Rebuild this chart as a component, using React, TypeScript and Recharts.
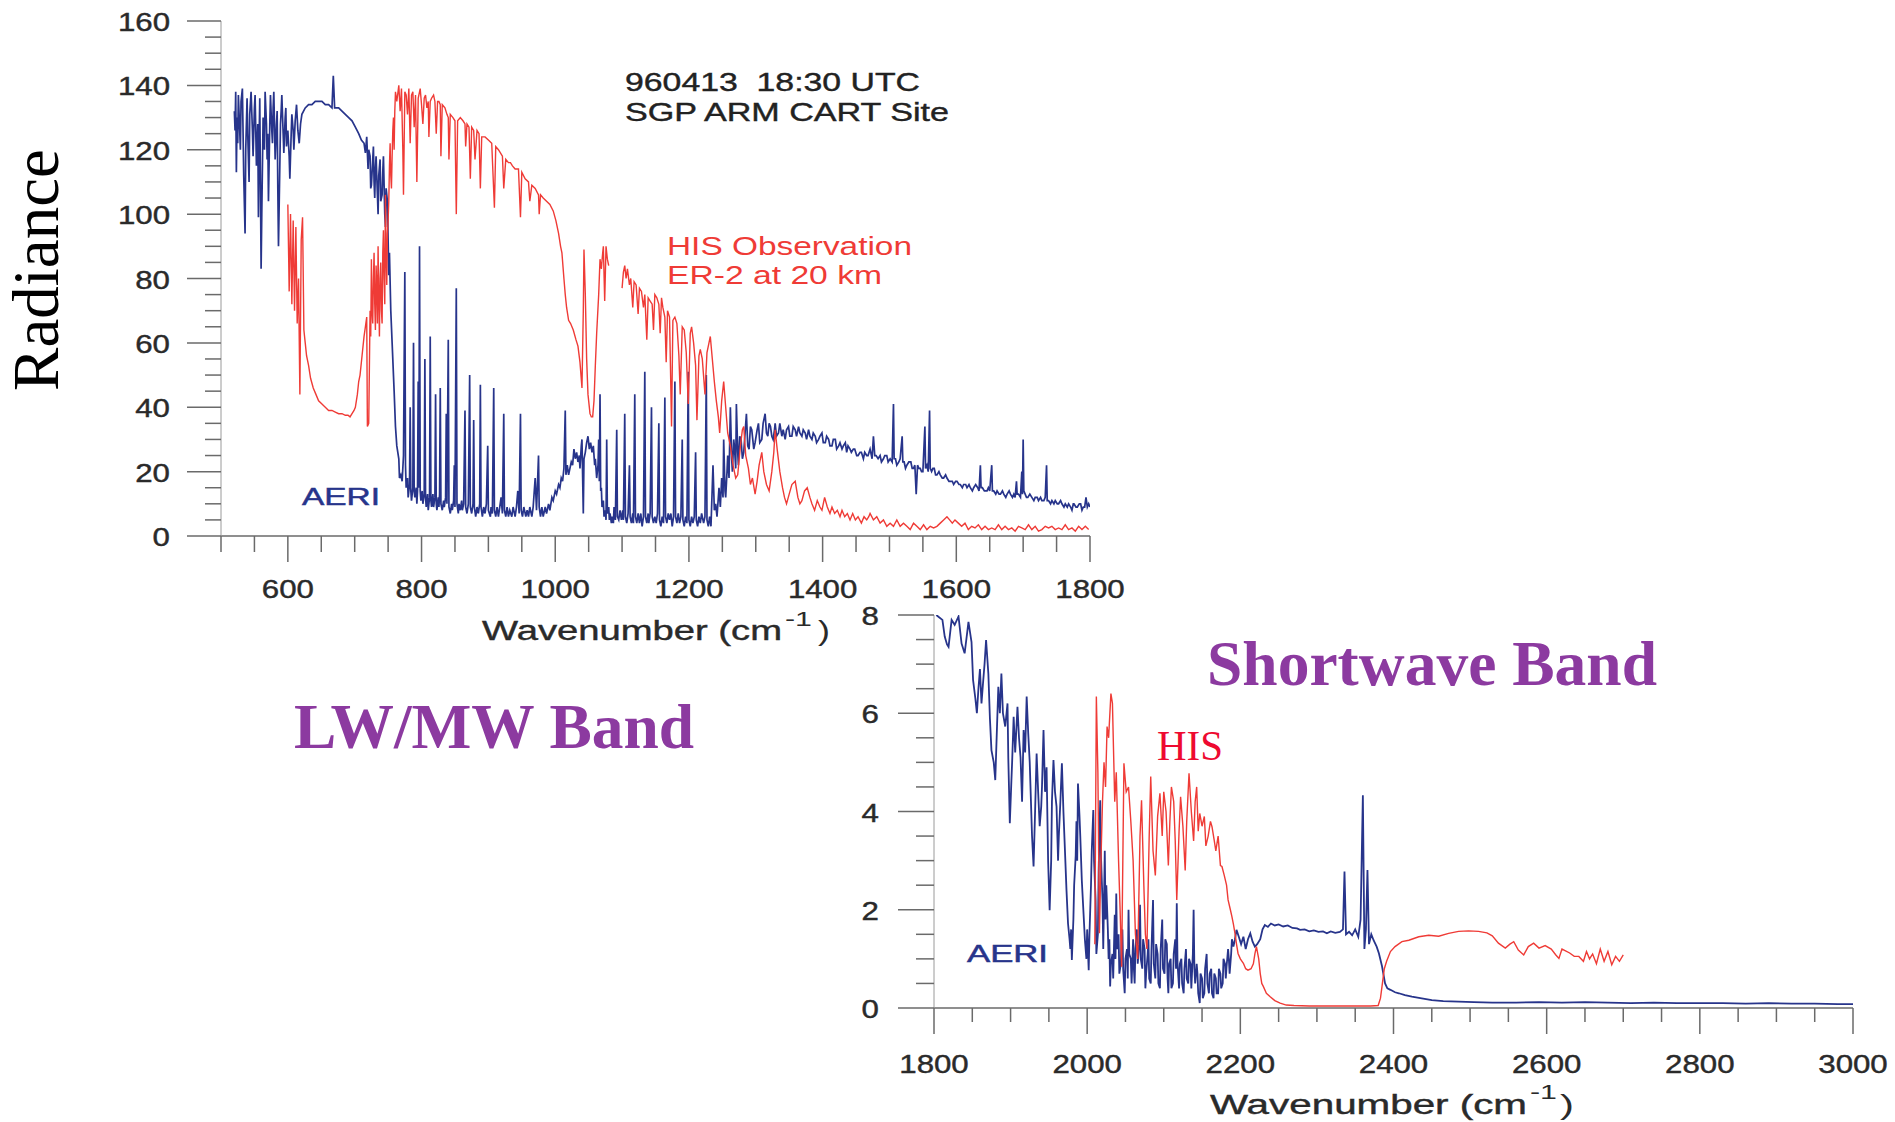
import React from "react";
import { LineChart, Line, XAxis, YAxis } from "recharts";

// wavenumber (cm-1) / radiance pairs
const aeriLw: [number, number][] = [
  [520, 132], [521, 126], [522, 138], [523, 113], [524, 130], [525, 122], [526, 137], [528, 126],
  [529, 120], [530, 135], [532, 139], [534, 112], [536, 94], [537, 120], [539, 136], [540, 125],
  [542, 110], [543, 131], [545, 138], [547, 126], [548, 118], [550, 133], [551, 137], [553, 115],
  [555, 128], [556, 99], [557, 122], [558, 136], [559, 110], [560, 83], [561, 100], [563, 130],
  [565, 120], [566, 138], [568, 128], [569, 117], [570, 125], [571, 104], [573, 128], [574, 137],
  [576, 126], [577, 122], [578, 133], [579, 138], [580, 128], [581, 117], [583, 128], [584, 132],
  [585, 108], [586, 90], [588, 115], [589, 128], [590, 132], [591, 137], [593, 125], [594, 119],
  [596, 130], [597, 133], [598, 121], [600, 126], [602, 118], [603, 111], [605, 125], [606, 131],
  [608, 126], [609, 120], [611, 129], [613, 134], [615, 126], [617, 122], [619, 128], [621, 131],
  [626, 133], [631, 134], [636, 134], [641, 135], [646, 135], [651, 135], [656, 134], [661, 134],
  [666, 133], [668, 143], [670, 133], [676, 133], [681, 132], [686, 131], [691, 130], [696, 129],
  [701, 127], [706, 125], [710, 123], [714, 122], [716, 119], [718, 124], [720, 114], [721, 120],
  [723, 118], [724, 108], [725, 109], [727, 117], [728, 121], [729, 110], [730, 105], [731, 114],
  [732, 118], [734, 106], [735, 100], [736, 112], [738, 117], [739, 104], [741, 106], [742, 113],
  [743, 118], [745, 100], [746, 96], [747, 108], [749, 104], [750, 92], [751, 81], [752, 88],
  [754, 70], [756, 60], [759, 45], [761, 34], [763, 28], [766, 24], [767, 18], [769, 19],
  [771, 17], [773, 25], [775, 82], [776, 22], [777, 15], [779, 18], [780, 12], [782, 16],
  [783, 40], [784, 14], [785, 11], [787, 15], [788, 60], [789, 14], [790, 12], [792, 15],
  [793, 10], [794, 14], [795, 48], [796, 15], [797, 90], [798, 14], [799, 11], [801, 14],
  [802, 10], [804, 13], [805, 55], [806, 12], [807, 9], [809, 13], [810, 8], [812, 12],
  [813, 62], [814, 11], [815, 9], [817, 13], [818, 9], [820, 12], [821, 44], [822, 10],
  [823, 8], [825, 12], [826, 9], [827, 13], [828, 46], [829, 10], [831, 8], [833, 11],
  [834, 9], [836, 12], [837, 38], [838, 10], [840, 61], [841, 9], [843, 7], [845, 10],
  [846, 8], [848, 11], [849, 22], [850, 9], [852, 77], [853, 10], [855, 7], [856, 10],
  [858, 8], [860, 11], [861, 8], [863, 10], [865, 39], [866, 9], [868, 7], [870, 10],
  [872, 50], [873, 9], [875, 7], [877, 10], [878, 36], [879, 9], [881, 6], [883, 9],
  [885, 7], [887, 10], [888, 47], [889, 9], [891, 6], [893, 9], [895, 7], [897, 10],
  [899, 28], [900, 8], [903, 6], [904, 9], [906, 7], [908, 46], [909, 8], [911, 6],
  [913, 9], [915, 6], [917, 9], [919, 12], [921, 7], [923, 38], [924, 8], [926, 6],
  [928, 9], [930, 6], [932, 8], [935, 6], [937, 9], [940, 6], [942, 9], [944, 14],
  [946, 7], [948, 38], [949, 8], [951, 6], [953, 9], [956, 6], [958, 8], [960, 6],
  [962, 9], [965, 6], [967, 9], [970, 18], [972, 8], [975, 25], [976, 9], [978, 6],
  [980, 9], [982, 6], [985, 9], [987, 7], [990, 10], [992, 8], [995, 12], [997, 11],
  [1000, 14], [1002, 13], [1005, 16], [1007, 15], [1009, 18], [1011, 17], [1013, 21], [1015, 39],
  [1016, 19], [1018, 22], [1020, 19], [1022, 21], [1024, 23], [1026, 22], [1028, 27], [1030, 24],
  [1032, 26], [1034, 23], [1036, 25], [1037, 21], [1039, 28], [1040, 30], [1042, 7], [1043, 24],
  [1045, 26], [1047, 29], [1049, 31], [1051, 27], [1053, 29], [1055, 26], [1057, 28], [1059, 22],
  [1060, 24], [1062, 18], [1064, 22], [1065, 30], [1066, 17], [1067, 44], [1068, 14], [1069, 15],
  [1070, 9], [1072, 11], [1073, 6], [1075, 8], [1076, 5], [1077, 30], [1078, 7], [1080, 9],
  [1081, 5], [1082, 7], [1084, 4], [1085, 6], [1087, 4], [1088, 9], [1090, 5], [1092, 33],
  [1093, 6], [1095, 5], [1097, 8], [1099, 5], [1101, 8], [1102, 5], [1104, 38], [1105, 6],
  [1107, 4], [1109, 7], [1111, 22], [1112, 6], [1114, 4], [1116, 7], [1117, 4], [1119, 44],
  [1120, 6], [1122, 4], [1124, 7], [1126, 4], [1128, 7], [1130, 3], [1132, 6], [1134, 51],
  [1135, 6], [1137, 4], [1139, 7], [1140, 4], [1142, 7], [1144, 40], [1145, 6], [1147, 4],
  [1149, 6], [1151, 4], [1153, 7], [1155, 35], [1156, 5], [1158, 3], [1160, 6], [1162, 4],
  [1164, 43], [1165, 6], [1167, 4], [1169, 7], [1171, 5], [1173, 7], [1175, 3], [1177, 6],
  [1179, 48], [1180, 6], [1182, 4], [1184, 7], [1186, 4], [1188, 6], [1190, 30], [1191, 5],
  [1193, 3], [1195, 6], [1197, 4], [1199, 51], [1200, 5], [1202, 3], [1204, 6], [1206, 4],
  [1208, 6], [1210, 26], [1211, 5], [1213, 3], [1215, 6], [1217, 4], [1219, 7], [1222, 4],
  [1224, 6], [1226, 50], [1227, 5], [1229, 3], [1231, 6], [1233, 3], [1236, 22], [1238, 8],
  [1240, 10], [1242, 6], [1245, 15], [1247, 9], [1249, 18], [1251, 12], [1252, 30], [1254, 14],
  [1255, 12], [1257, 20], [1258, 25], [1260, 18], [1262, 40], [1264, 24], [1265, 20], [1267, 30],
  [1268, 28], [1270, 21], [1271, 41], [1273, 26], [1274, 22], [1276, 31], [1278, 30], [1280, 24],
  [1282, 26], [1284, 32], [1286, 38], [1288, 28], [1290, 27], [1292, 34], [1294, 33], [1297, 27],
  [1299, 29], [1302, 33], [1304, 35], [1306, 29], [1309, 30], [1311, 35], [1314, 38], [1316, 32],
  [1318, 31], [1320, 35], [1322, 34], [1324, 31], [1326, 30], [1328, 33], [1329, 35], [1331, 31],
  [1334, 32], [1336, 35], [1339, 31], [1341, 33], [1344, 30], [1346, 33], [1349, 34], [1351, 31],
  [1354, 31], [1356, 34], [1359, 33], [1361, 31], [1364, 34], [1366, 32], [1369, 31], [1371, 33],
  [1374, 32], [1376, 30], [1379, 33], [1381, 31], [1384, 30], [1386, 32], [1389, 31], [1391, 29],
  [1394, 30], [1396, 31], [1399, 32], [1401, 29], [1404, 29], [1406, 31], [1409, 30], [1411, 28],
  [1414, 28], [1416, 30], [1419, 30], [1421, 27], [1424, 28], [1426, 29], [1429, 27], [1431, 28],
  [1434, 29], [1436, 26], [1438, 28], [1441, 27], [1443, 26], [1446, 27], [1448, 27], [1451, 25],
  [1453, 25], [1456, 26], [1458, 26], [1461, 24], [1463, 26], [1466, 25], [1468, 25], [1471, 27],
  [1474, 24], [1476, 31], [1478, 25], [1480, 25], [1483, 24], [1486, 25], [1488, 23], [1491, 24],
  [1493, 25], [1496, 25], [1498, 23], [1501, 24], [1504, 23], [1506, 41], [1507, 24], [1509, 24],
  [1511, 22], [1514, 23], [1516, 24], [1519, 31], [1520, 23], [1522, 23], [1524, 21], [1526, 22],
  [1529, 23], [1532, 23], [1534, 21], [1536, 21], [1538, 22], [1540, 13], [1542, 22], [1544, 21],
  [1546, 21], [1548, 20], [1550, 20], [1553, 34], [1554, 21], [1556, 22], [1558, 20], [1560, 39],
  [1561, 21], [1563, 20], [1565, 21], [1567, 21], [1569, 19], [1571, 19], [1574, 20], [1576, 19],
  [1579, 18], [1581, 18], [1584, 19], [1586, 18], [1589, 17], [1591, 17], [1594, 17], [1596, 16],
  [1599, 17], [1601, 17], [1604, 16], [1606, 16], [1609, 15], [1611, 16], [1614, 16], [1616, 15],
  [1619, 16], [1621, 15], [1624, 14], [1626, 15], [1629, 16], [1632, 15], [1634, 14], [1636, 22],
  [1637, 15], [1639, 15], [1642, 14], [1646, 14], [1648, 15], [1650, 14], [1653, 22], [1654, 14],
  [1656, 14], [1659, 13], [1661, 14], [1664, 13], [1666, 13], [1669, 14], [1671, 13], [1674, 12],
  [1676, 13], [1679, 14], [1681, 13], [1684, 12], [1686, 13], [1688, 12], [1690, 17], [1691, 13],
  [1693, 13], [1696, 12], [1698, 20], [1699, 13], [1700, 30], [1701, 14], [1703, 13], [1705, 12],
  [1707, 12], [1710, 13], [1713, 12], [1716, 11], [1718, 12], [1721, 12], [1723, 11], [1726, 12],
  [1728, 11], [1731, 11], [1733, 12], [1735, 22], [1736, 11], [1738, 11], [1741, 10], [1743, 11],
  [1746, 10], [1748, 11], [1751, 10], [1753, 10], [1756, 11], [1758, 10], [1761, 9], [1763, 10],
  [1766, 9], [1768, 10], [1771, 9], [1773, 8], [1775, 10], [1776, 10], [1779, 9], [1781, 9],
  [1784, 10], [1786, 10], [1788, 8], [1790, 9], [1792, 9], [1794, 12], [1796, 9], [1798, 10],
  [1800, 9],
];

const hisLw: [number, number | null][] = [
  [600, 103], [602, 76], [604, 100], [606, 72], [608, 98], [610, 70], [612, 96], [614, 66],
  [616, 80], [618, 44], [620, 92], [622, 99], [624, 64], [626, 60], [628, 56], [631, 53],
  [634, 49], [638, 46], [642, 44], [646, 42], [651, 41], [656, 40], [661, 39], [666, 39],
  [671, 38.5], [676, 38], [681, 38], [686, 37.5], [690, 37.5], [693, 37], [696, 38], [699, 39],
  [701, 40], [704, 44], [706, 48], [708, 50], [711, 56], [714, 62], [716, 65], [718, 68],
  [719, 34], [721, 35], [723, 70], [724, 62], [725, 86], [726, 70], [727, 66], [728, 80],
  [729, 88], [730, 72], [731, 64], [732, 84], [733, 78], [734, 66], [735, 90], [736, 74],
  [737, 62], [738, 80], [739, 85], [740, 70], [741, 66], [742, 88], [743, 95], [744, 80],
  [745, 72], [746, 106], [747, 88], [748, 78], [749, 94], [750, 98], [751, 104], [752, 115],
  [753, 122], [754, 112], [755, 108], [756, 118], [757, 126], [758, 130], [759, 120], [760, 132],
  [761, 138], [763, 135], [766, 140], [768, 132], [770, 139], [772, 120], [773, 106], [775, 138],
  [777, 137], [779, 131], [781, 139], [783, 122], [785, 137], [787, 138], [789, 127], [791, 137],
  [793, 110], [795, 136], [798, 139], [800, 134], [802, 128], [804, 136], [806, 137], [808, 133],
  [810, 135], [811, 124], [813, 135], [815, 136], [818, 137], [820, 135], [822, 125], [824, 135],
  [826, 135], [828, 134], [829, 118], [831, 134], [835, 133], [838, 131], [840, 130], [841, 117],
  [843, 131], [847, 130], [850, 129], [852, 100], [854, 129], [858, 130], [862, 129], [865, 128],
  [866, 121], [868, 128], [871, 127], [873, 111], [875, 127], [878, 126], [880, 117], [883, 126],
  [886, 125], [888, 108], [890, 124], [895, 124], [900, 123], [905, 122], [909, 102], [911, 121],
  [915, 120], [918, 119], [921, 118], [923, 108], [926, 117], [930, 116], [933, 116], [936, 115],
  [940, 114], [945, 114], [948, 99], [950, 113], [955, 111], [960, 110], [962, 104], [965, 109],
  [970, 108], [975, 106], [976, 100], [978, 106], [982, 105], [987, 104], [992, 103], [997, 101],
  [1001, 98], [1005, 94], [1008, 90], [1010, 88], [1013, 80], [1015, 75], [1017, 71], [1020, 67],
  [1023, 66], [1027, 64], [1031, 61], [1034, 59], [1037, 54], [1040, 46], [1042, 70], [1043, 89],
  [1045, 75], [1047, 55], [1049, 44], [1052, 38], [1054, 37], [1056, 37], [1058, 42], [1060, 53],
  [1062, 63], [1065, 75], [1067, 86], [1069, 83], [1071, 88], [1072, 90], [1074, 73], [1076, 90],
  [1078, 86], [1080, 84],
  [1090, null],
  [1100, 77], [1102, 82], [1104, 84], [1106, 80], [1108, 83], [1111, 78], [1113, 80], [1116, 71],
  [1118, 79], [1121, 78], [1124, 69], [1126, 77], [1129, 76], [1132, 71], [1134, 75], [1137, 61],
  [1139, 74], [1142, 73], [1145, 72], [1147, 64], [1149, 75], [1152, 74], [1155, 72], [1157, 63],
  [1159, 74], [1161, 71], [1164, 68], [1166, 54], [1168, 70], [1171, 68], [1174, 34], [1176, 67],
  [1179, 68], [1182, 66], [1185, 56], [1187, 44], [1190, 65], [1193, 64], [1196, 57], [1199, 41],
  [1202, 63], [1204, 65], [1207, 60], [1210, 53], [1212, 36], [1215, 56], [1217, 58], [1220, 55],
  [1224, 44], [1227, 57], [1230, 60], [1232, 62], [1235, 55], [1238, 48], [1241, 42], [1244, 37],
  [1246, 32], [1249, 42], [1252, 48], [1255, 40], [1258, 32], [1262, 28], [1266, 22], [1270, 18],
  [1273, 19], [1277, 28], [1280, 33], [1282, 34], [1285, 25], [1289, 21], [1292, 16], [1295, 18],
  [1299, 13], [1302, 17], [1305, 22], [1309, 26], [1312, 20], [1316, 16], [1320, 14], [1324, 20],
  [1327, 26], [1329, 33], [1332, 27], [1336, 20], [1340, 15], [1343, 12], [1346, 10], [1350, 13],
  [1354, 16], [1359, 17], [1363, 12], [1366, 10], [1369, 11], [1373, 14], [1377, 15], [1381, 12],
  [1384, 10], [1388, 8], [1392, 11], [1396, 9], [1399, 8], [1403, 12], [1407, 9], [1411, 7],
  [1414, 9], [1418, 7], [1422, 8], [1426, 6], [1429, 8], [1433, 6], [1437, 7], [1441, 5],
  [1445, 7], [1449, 5], [1453, 6], [1458, 4], [1462, 6], [1466, 5], [1469, 6], [1471, 7],
  [1476, 5], [1481, 6], [1486, 4], [1491, 5], [1496, 3], [1501, 4], [1506, 3], [1511, 5],
  [1516, 3], [1521, 4], [1526, 3], [1531, 2], [1536, 4], [1541, 3], [1546, 2], [1551, 3.5],
  [1556, 2], [1561, 3], [1566, 2.5], [1571, 3], [1576, 4], [1581, 5], [1586, 6], [1590, 5],
  [1594, 4], [1598, 5], [1603, 4], [1608, 3], [1613, 4], [1618, 2], [1623, 3], [1628, 2.5],
  [1633, 3.5], [1638, 2], [1643, 3], [1648, 2], [1653, 2.5], [1658, 2], [1663, 3.5], [1668, 2],
  [1673, 3], [1678, 2], [1683, 2.5], [1688, 1.5], [1693, 3], [1698, 2.5], [1703, 2], [1708, 3.5],
  [1713, 2], [1718, 3], [1723, 1.5], [1728, 2], [1733, 3], [1738, 2.5], [1743, 3], [1748, 2],
  [1753, 2.5], [1758, 2], [1763, 3.5], [1768, 2], [1773, 2.5], [1778, 1.5], [1783, 3], [1788, 2],
  [1793, 3], [1798, 2],
];

const aeriSw: [number, number][] = [
  [1803, 8.0], [1807, 7.95], [1811, 7.9], [1814, 7.56], [1817, 7.4], [1819, 7.35], [1823, 7.9], [1827, 7.8],
  [1832, 7.97], [1836, 7.42], [1840, 7.22], [1843, 7.6], [1845, 7.86], [1849, 7.45], [1851, 6.68], [1854, 6.3],
  [1856, 6.0], [1858, 6.5], [1860, 6.9], [1862, 6.2], [1864, 6.61], [1866, 7.0], [1868, 7.49], [1871, 6.8],
  [1873, 5.9], [1875, 5.25], [1878, 5.0], [1880, 4.64], [1882, 5.6], [1884, 6.54], [1886, 6.0], [1888, 6.81],
  [1890, 6.0], [1893, 5.73], [1896, 6.2], [1897, 5.1], [1899, 3.76], [1901, 4.6], [1902, 5.0], [1904, 5.93],
  [1906, 5.2], [1907, 5.5], [1909, 6.13], [1911, 5.5], [1913, 5.1], [1915, 4.2], [1917, 5.66], [1919, 5.2],
  [1921, 6.34], [1923, 5.6], [1925, 5.0], [1928, 3.5], [1930, 2.88], [1932, 4.0], [1934, 5.18], [1936, 4.4],
  [1938, 3.7], [1940, 4.1], [1941, 4.5], [1943, 5.66], [1945, 4.4], [1947, 4.9], [1949, 3.0], [1951, 1.99],
  [1953, 3.0], [1954, 4.2], [1956, 5.05], [1958, 4.4], [1960, 4.1], [1962, 3.0], [1963, 3.5], [1965, 4.2],
  [1967, 4.98], [1969, 4.0], [1971, 3.2], [1973, 2.4], [1975, 1.72], [1977, 1.4], [1978, 1.2], [1979, 1.6],
  [1980, 0.98], [1982, 1.8], [1983, 2.5], [1985, 3.1], [1986, 3.8], [1987, 3.0], [1988, 4.57], [1990, 3.9],
  [1991, 3.5], [1993, 2.6], [1995, 2.0], [1997, 1.4], [1999, 1.0], [2000, 1.6], [2002, 0.77], [2003, 1.5],
  [2005, 2.5], [2006, 3.2], [2008, 4.03], [2009, 3.0], [2011, 2.2], [2012, 1.1], [2014, 1.5], [2015, 2.8],
  [2017, 4.23], [2018, 3.1], [2020, 2.2], [2021, 1.2], [2023, 3.2], [2024, 1.8], [2025, 2.5], [2027, 1.6],
  [2028, 1.0], [2029, 1.4], [2030, 0.44], [2031, 0.9], [2033, 1.1], [2034, 0.6], [2036, 1.9], [2037, 1.0],
  [2038, 2.33], [2039, 1.2], [2041, 1.5], [2042, 0.7], [2044, 0.9], [2045, 1.5], [2046, 1.6], [2047, 0.8],
  [2049, 0.3], [2050, 1.0], [2052, 1.2], [2053, 0.6], [2054, 2.0], [2055, 1.1], [2057, 1.0], [2058, 0.5],
  [2060, 1.4], [2061, 0.8], [2062, 0.5], [2063, 1.2], [2065, 1.6], [2066, 0.9], [2068, 1.3], [2069, 2.1],
  [2070, 1.0], [2072, 0.8], [2073, 1.4], [2075, 1.2], [2076, 0.4], [2077, 0.7], [2079, 1.1], [2080, 1.4],
  [2081, 0.6], [2083, 0.5], [2084, 1.2], [2086, 2.2], [2087, 0.9], [2089, 0.6], [2090, 1.3], [2092, 1.1],
  [2093, 0.5], [2095, 0.4], [2096, 1.2], [2098, 1.8], [2099, 0.8], [2101, 0.7], [2102, 1.4], [2104, 1.3],
  [2105, 0.6], [2106, 0.3], [2107, 0.9], [2109, 1.0], [2110, 0.4], [2112, 0.5], [2113, 1.1], [2115, 1.4],
  [2116, 0.8], [2117, 2.13], [2118, 0.9], [2120, 0.4], [2121, 0.9], [2123, 1.0], [2124, 0.5], [2126, 0.3],
  [2127, 0.8], [2129, 1.2], [2130, 0.6], [2132, 0.5], [2133, 1.0], [2135, 0.9], [2136, 0.4], [2138, 1.1],
  [2139, 2.0], [2140, 0.8], [2141, 0.5], [2143, 0.9], [2144, 0.7], [2145, 0.3], [2147, 0.1], [2148, 0.7],
  [2150, 0.6], [2151, 0.2], [2153, 0.3], [2154, 0.8], [2156, 1.1], [2157, 0.5], [2159, 0.3], [2160, 0.7],
  [2162, 0.8], [2163, 0.3], [2165, 0.2], [2166, 0.7], [2168, 0.6], [2169, 0.3], [2171, 0.3], [2172, 0.8],
  [2174, 0.7], [2175, 0.4], [2177, 0.5], [2178, 1.0], [2180, 0.9], [2181, 0.6], [2182, 0.84], [2184, 1.2],
  [2185, 1.0], [2186, 0.7], [2188, 1.1], [2189, 1.4], [2191, 1.25], [2193, 1.4], [2195, 1.59], [2198, 1.45],
  [2201, 1.3], [2204, 1.45], [2207, 1.2], [2210, 1.4], [2213, 1.52], [2216, 1.35], [2219, 1.25], [2222, 1.3],
  [2226, 1.4], [2229, 1.6], [2232, 1.69], [2236, 1.65], [2240, 1.72], [2245, 1.68], [2250, 1.7], [2256, 1.66],
  [2262, 1.68], [2268, 1.63], [2274, 1.62], [2278, 1.59], [2284, 1.6], [2290, 1.56], [2296, 1.58], [2302, 1.55],
  [2308, 1.56], [2313, 1.52], [2318, 1.56], [2324, 1.53], [2330, 1.55], [2334, 1.6], [2336, 2.78], [2338, 1.5],
  [2342, 1.55], [2346, 1.48], [2350, 1.6], [2354, 1.45], [2357, 1.8], [2360, 4.33], [2362, 1.2], [2364, 1.6],
  [2366, 2.81], [2368, 1.3], [2371, 1.5], [2374, 1.38], [2378, 1.25], [2381, 1.11], [2385, 0.85], [2389, 0.5],
  [2392, 0.4], [2396, 0.37], [2402, 0.32], [2407, 0.3], [2415, 0.26], [2424, 0.23], [2435, 0.2], [2450, 0.16],
  [2465, 0.14], [2485, 0.13], [2505, 0.12], [2529, 0.11], [2560, 0.11], [2590, 0.12], [2620, 0.11], [2650, 0.12],
  [2680, 0.11], [2710, 0.1], [2740, 0.11], [2770, 0.1], [2800, 0.1], [2830, 0.1], [2860, 0.09], [2890, 0.1],
  [2920, 0.09], [2950, 0.09], [2980, 0.08], [3000, 0.08],
];

const hisSw: [number, number][] = [
  [2010, 1.3], [2012, 6.34], [2014, 4.8], [2016, 1.52], [2018, 3.0], [2020, 4.2], [2022, 5.0], [2024, 4.5],
  [2026, 5.73], [2028, 5.5], [2031, 6.4], [2033, 6.2], [2036, 4.2], [2038, 4.8], [2041, 3.0], [2043, 2.0],
  [2045, 0.84], [2048, 4.98], [2051, 4.4], [2054, 4.5], [2057, 3.8], [2060, 3.0], [2063, 1.5], [2066, 1.0],
  [2069, 3.5], [2071, 4.23], [2074, 2.5], [2076, 1.5], [2078, 1.2], [2081, 3.5], [2083, 4.71], [2086, 3.2],
  [2089, 2.7], [2092, 3.9], [2095, 4.37], [2098, 3.5], [2100, 4.4], [2103, 4.0], [2106, 2.9], [2108, 3.8],
  [2110, 4.5], [2113, 4.2], [2115, 3.4], [2117, 2.2], [2120, 3.6], [2122, 4.3], [2125, 3.7], [2128, 2.8],
  [2130, 3.8], [2133, 4.78], [2136, 4.0], [2139, 3.4], [2141, 4.2], [2143, 4.5], [2145, 3.6], [2147, 3.96],
  [2150, 3.7], [2153, 3.9], [2155, 3.3], [2158, 3.5], [2161, 3.8], [2163, 3.69], [2166, 3.4], [2168, 3.2],
  [2171, 3.5], [2174, 2.9], [2176, 2.88], [2179, 2.7], [2182, 2.5], [2184, 2.2], [2187, 2.0], [2189, 1.86],
  [2191, 1.7], [2193, 1.52], [2195, 1.3], [2197, 1.11], [2200, 1.0], [2204, 0.91], [2207, 0.8], [2210, 0.77],
  [2214, 0.8], [2217, 0.9], [2219, 1.1], [2221, 1.25], [2224, 1.0], [2226, 0.7], [2228, 0.5], [2230, 0.44],
  [2234, 0.3], [2239, 0.23], [2245, 0.15], [2252, 0.1], [2260, 0.06], [2270, 0.05], [2290, 0.04], [2310, 0.04],
  [2330, 0.04], [2350, 0.04], [2370, 0.04], [2380, 0.05], [2383, 0.2], [2385, 0.44], [2388, 0.8], [2391, 0.95],
  [2396, 1.15], [2402, 1.25], [2411, 1.35], [2420, 1.38], [2433, 1.45], [2446, 1.48], [2459, 1.46], [2472, 1.52],
  [2485, 1.56], [2498, 1.57], [2511, 1.56], [2522, 1.53], [2529, 1.47], [2537, 1.32], [2546, 1.22], [2552, 1.3],
  [2557, 1.35], [2563, 1.18], [2570, 1.08], [2576, 1.25], [2583, 1.32], [2590, 1.22], [2598, 1.27], [2606, 1.2],
  [2612, 1.08], [2616, 1.01], [2620, 1.2], [2624, 1.17], [2630, 1.12], [2636, 1.05], [2642, 1.05], [2648, 0.95],
  [2652, 1.15], [2656, 1.0], [2660, 1.1], [2665, 0.9], [2670, 1.2], [2675, 0.95], [2680, 1.15], [2685, 0.88],
  [2690, 1.05], [2695, 0.95], [2700, 1.08],
];

// axis ticks
const lwXTicks = [500, 550, 600, 650, 700, 750, 800, 850, 900, 950, 1000, 1050, 1100, 1150, 1200, 1250, 1300, 1350, 1400, 1450, 1500, 1550, 1600, 1650, 1700, 1750, 1800];
const lwXLabels = [600, 800, 1000, 1200, 1400, 1600, 1800];
const lwYTicks = [0, 5, 10, 15, 20, 25, 30, 35, 40, 45, 50, 55, 60, 65, 70, 75, 80, 85, 90, 95, 100, 105, 110, 115, 120, 125, 130, 135, 140, 145, 150, 155, 160];
const lwYLabels = [0, 20, 40, 60, 80, 100, 120, 140, 160];
const swXTicks = [1800, 1850, 1900, 1950, 2000, 2050, 2100, 2150, 2200, 2250, 2300, 2350, 2400, 2450, 2500, 2550, 2600, 2650, 2700, 2750, 2800, 2850, 2900, 2950, 3000];
const swXLabels = [1800, 2000, 2200, 2400, 2600, 2800, 3000];
const swYTicks = [0, 0.5, 1, 1.5, 2, 2.5, 3, 3.5, 4, 4.5, 5, 5.5, 6, 6.5, 7, 7.5, 8];
const swYLabels = [0, 2, 4, 6, 8];

const BLUE = "#27348b";
const RED = "#ef3b36";
const TICK = "#6a6a6a";
const SANS = "'Liberation Sans', Arial, Helvetica, sans-serif";
const SERIF = "'Liberation Serif', 'Times New Roman', serif";

const rows = (pairs: [number, number | null][]) => pairs.map(([wn, v]) => ({ wn, v }));

function TickLabel({ x, y, anchor, text }: { x: number; y: number; anchor: "end" | "middle"; text: string }) {
  return (
    <text
      transform={`translate(${x},${y}) scale(1.25,1)`}
      textAnchor={anchor}
      fontFamily={SANS}
      fontSize={25}
      fill="#2a2a2a"
      stroke="#2a2a2a"
      strokeWidth={0.4}
    >
      {text}
    </text>
  );
}

function makeYTick(labels: number[], majorLen: number, minorLen: number, labelGap: number) {
  return (props: any) => {
    const { x, y, payload } = props;
    const major = labels.includes(payload.value);
    return (
      <g>
        <line x1={x - (major ? majorLen : minorLen)} x2={x} y1={y} y2={y} stroke={TICK} strokeWidth={1.5} />
        {major && <TickLabel x={x - labelGap} y={y + 10} anchor="end" text={String(payload.value)} />}
      </g>
    );
  };
}

function makeXTick(labels: number[], majorLen: number, minorLen: number, labelDrop: number) {
  return (props: any) => {
    const { x, y, payload } = props;
    const major = labels.includes(payload.value);
    return (
      <g>
        <line x1={x} x2={x} y1={y} y2={y + (major ? majorLen : minorLen)} stroke={TICK} strokeWidth={1.5} />
        {major && <TickLabel x={x} y={y + labelDrop} anchor="middle" text={String(payload.value)} />}
      </g>
    );
  };
}

function LwPanel() {
  // plot area: x 221..1090, y 21..536 in page pixels
  return (
    <div style={{ position: "absolute", left: 0, top: 0 }}>
      <LineChart width={1160} height={620} margin={{ top: 21, right: 70, bottom: 24, left: 161 }}>
        <XAxis
          dataKey="wn"
          type="number"
          domain={[500, 1800]}
          ticks={lwXTicks}
          interval={0}
          allowDataOverflow
          height={60}
          tickSize={0}
          tickMargin={0}
          tickLine={false}
          axisLine={{ stroke: TICK, strokeWidth: 1.5 }}
          tick={makeXTick(lwXLabels, 26, 16, 62)}
        />
        <YAxis
          type="number"
          domain={[0, 160]}
          ticks={lwYTicks}
          interval={0}
          allowDataOverflow
          width={60}
          tickSize={0}
          tickMargin={0}
          tickLine={false}
          axisLine={{ stroke: "#9a9a9a", strokeWidth: 1 }}
          tick={makeYTick(lwYLabels, 34, 16, 51)}
        />
        <Line data={rows(aeriLw)} dataKey="v" type="linear" stroke={BLUE} strokeWidth={1.7} dot={false} isAnimationActive={false} />
        <Line data={rows(hisLw)} dataKey="v" type="linear" stroke={RED} strokeWidth={1.4} dot={false} isAnimationActive={false} />
      </LineChart>
    </div>
  );
}

function SwPanel() {
  // plot area: x 934..1853, y 615..1008 in page pixels
  return (
    <div style={{ position: "absolute", left: 860, top: 590 }}>
      <LineChart width={1035} height={532} margin={{ top: 25, right: 42, bottom: 54, left: 14 }}>
        <XAxis
          dataKey="wn"
          type="number"
          domain={[1800, 3000]}
          ticks={swXTicks}
          interval={0}
          allowDataOverflow
          height={60}
          tickSize={0}
          tickMargin={0}
          tickLine={false}
          axisLine={{ stroke: TICK, strokeWidth: 1.5 }}
          tick={makeXTick(swXLabels, 26, 14, 65)}
        />
        <YAxis
          type="number"
          domain={[0, 8]}
          ticks={swYTicks}
          interval={0}
          allowDataOverflow
          width={60}
          tickSize={0}
          tickMargin={0}
          tickLine={false}
          axisLine={{ stroke: "#9a9a9a", strokeWidth: 1 }}
          tick={makeYTick(swYLabels, 36, 18, 55)}
        />
        <Line data={rows(aeriSw)} dataKey="v" type="linear" stroke={BLUE} strokeWidth={1.8} dot={false} isAnimationActive={false} />
        <Line data={rows(hisSw)} dataKey="v" type="linear" stroke={RED} strokeWidth={1.4} dot={false} isAnimationActive={false} />
      </LineChart>
    </div>
  );
}

function Annotations() {
  const fit = { lengthAdjust: "spacingAndGlyphs" as const, style: { whiteSpace: "pre" as const } };
  return (
    <svg width={1895} height={1122} style={{ position: "absolute", left: 0, top: 0, pointerEvents: "none" }}>
      <text transform="translate(58,270) rotate(-90)" textAnchor="middle" fontFamily={SERIF} fontSize={65} fill="#000">
        Radiance
      </text>

      <text x={625} y={91} fontFamily={SANS} fontSize={26} fill="#222" stroke="#222" strokeWidth={0.4} textLength={295} {...fit}>960413  18:30 UTC</text>
      <text x={625} y={121} fontFamily={SANS} fontSize={26} fill="#222" stroke="#222" strokeWidth={0.4} textLength={324} {...fit}>SGP ARM CART Site</text>
      <text x={667} y={255} fontFamily={SANS} fontSize={25} fill={RED} textLength={245} {...fit}>HIS Observation</text>
      <text x={667} y={284} fontFamily={SANS} fontSize={25} fill={RED} textLength={215} {...fit}>ER-2 at 20 km</text>
      <text x={302} y={505} fontFamily={SANS} fontSize={24} fill={BLUE} stroke={BLUE} strokeWidth={0.5} textLength={78} {...fit}>AERI</text>
      <text x={967} y={962} fontFamily={SANS} fontSize={24} fill={BLUE} stroke={BLUE} strokeWidth={0.5} textLength={81} {...fit}>AERI</text>

      <text x={482} y={640} fontFamily={SANS} fontSize={27} fill="#2a2a2a" stroke="#2a2a2a" strokeWidth={0.4} textLength={300} {...fit}>Wavenumber (cm</text>
      <text x={785} y={626} fontFamily={SANS} fontSize={20} fill="#2a2a2a" textLength={27} {...fit}>-1</text>
      <text x={818} y={640} fontFamily={SANS} fontSize={27} fill="#2a2a2a" textLength={12} {...fit}>)</text>

      <text x={1210} y={1114} fontFamily={SANS} fontSize={27} fill="#2a2a2a" stroke="#2a2a2a" strokeWidth={0.4} textLength={317} {...fit}>Wavenumber (cm</text>
      <text x={1530} y={1099} fontFamily={SANS} fontSize={20} fill="#2a2a2a" textLength={27} {...fit}>-1</text>
      <text x={1560} y={1114} fontFamily={SANS} fontSize={27} fill="#2a2a2a" textLength={14} {...fit}>)</text>

      <text x={294} y={748} fontFamily={SERIF} fontWeight="bold" fontSize={63} fill="#8c3aa0" textLength={400} {...fit}>LW/MW Band</text>
      <text x={1207} y={685} fontFamily={SERIF} fontWeight="bold" fontSize={63} fill="#8c3aa0" textLength={450} {...fit}>Shortwave Band</text>
      <text x={1157} y={760} fontFamily={SERIF} fontSize={42} fill="#ee0a30" textLength={66} {...fit}>HIS</text>
    </svg>
  );
}

export default function App() {
  return (
    <div style={{ position: "absolute", left: 0, top: 0, width: 1895, height: 1122, background: "#fff", overflow: "hidden" }}>
      <LwPanel />
      <SwPanel />
      <Annotations />
    </div>
  );
}
